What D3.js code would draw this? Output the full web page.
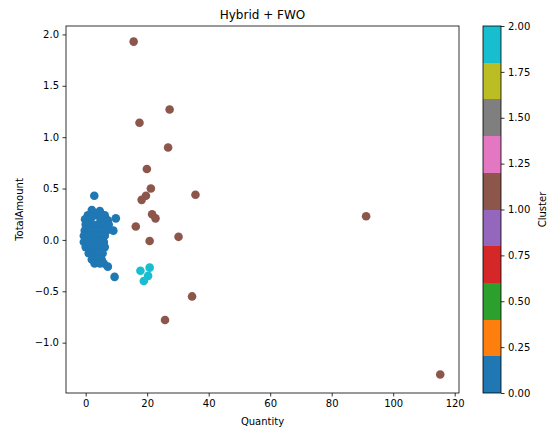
<!DOCTYPE html>
<html>
<head>
<meta charset="utf-8">
<script src="https://cdn.jsdelivr.net/npm/d3@7"></script>
<style>
  body { margin: 0; background: #fff; }
  text { font-family: "DejaVu Sans", sans-serif; fill: #000; }
</style>
</head>
<body>
<div id="chart"></div>
<script>
var width = 552, height = 430;

// cluster 0
var quantity0 = [2.8, 2.0, 4.6, 6.2, 3.3, 0.7, 9.8, -0.2, 1.6, 4.9, 7.2, 0.0, 2.0, 3.9, 5.9, 7.5,
  9.0, -0.3, 1.3, 3.3, 5.2, 6.8, -0.6, 1.0, 2.9, 4.6, 6.2, -0.6, 1.0, 2.6, 4.2, 5.9,
  0.0, 1.6, 3.3, 4.9, 6.2, 1.0, 2.6, 4.2, 5.5, 2.0, 3.6, 5.2, 2.9, 4.6, 5.9, 7.2, 9.4];
var amount0 = [0.43, 0.29, 0.28, 0.24, 0.24, 0.24, 0.21, 0.20, 0.20, 0.20, 0.19, 0.15, 0.15, 0.15, 0.14, 0.15,
  0.09, 0.09, 0.09, 0.09, 0.08, 0.09, 0.04, 0.04, 0.04, 0.04, 0.04, -0.02, -0.02, -0.02, -0.02, -0.02,
  -0.07, -0.07, -0.07, -0.07, -0.07, -0.13, -0.13, -0.13, -0.13, -0.19, -0.19, -0.19, -0.23, -0.23, -0.23, -0.26, -0.36];

// cluster 1
var quantity1 = [15.6, 27.3, 17.5, 26.8, 19.9, 21.2, 35.7, 19.6, 18.2, 21.6, 22.7, 16.3, 20.8, 30.2, 34.6, 25.8, 91.2, 115.3];
var amount1 = [1.93, 1.27, 1.14, 0.90, 0.69, 0.50, 0.44, 0.43, 0.39, 0.25, 0.21, 0.13, -0.01, 0.03, -0.55, -0.78, 0.23, -1.31];

// cluster 2
var quantity2 = [17.8, 20.8, 20.3, 18.9];
var amount2 = [-0.30, -0.27, -0.35, -0.40];

var xTicks = [0, 20, 40, 60, 80, 100, 120];
var yTicks = [-1.0, -0.5, 0.0, 0.5, 1.0, 1.5, 2.0];
var cbTicks = [0, 0.25, 0.5, 0.75, 1.0, 1.25, 1.5, 1.75, 2.0];

var points = [];
[[quantity0, amount0, 0], [quantity1, amount1, 1], [quantity2, amount2, 2]].forEach(function(s) {
  s[0].forEach(function(q, i) { points.push({ q: q, a: s[1][i], c: s[2] }); });
});

var m = { left: 66, right: 459, top: 26, bottom: 393 };

var svg = d3.select("#chart").append("svg").attr("width", width).attr("height", height);

var x = d3.scaleLinear().domain([-6.4, 121.4]).range([m.left, m.right]);
var y = d3.scaleLinear().domain([-1.49, 2.082]).range([m.bottom, m.top]);

// tab10, 10 bins over 0..2
var cmap = d3.schemeCategory10;
function color(c) { return cmap[Math.min(9, Math.floor(c / 2 * 10))]; }

svg.append("g")
    .attr("transform", "translate(0," + m.bottom + ")")
    .call(d3.axisBottom(x).tickValues(xTicks).tickSize(3.5).tickPadding(3.5).tickFormat(d3.format("d")))
    .call(styleAxis);

svg.append("g")
    .attr("transform", "translate(" + m.left + ",0)")
    .call(d3.axisLeft(y).tickValues(yTicks).tickSize(3.5).tickPadding(3.5).tickFormat(d3.format(".1f")))
    .call(styleAxis);

function styleAxis(g) {
  g.select(".domain").remove();
  g.selectAll("line").attr("stroke", "#000").attr("stroke-width", 0.8);
  g.selectAll("text").style("font-family", "DejaVu Sans, sans-serif").style("font-size", "10px").attr("fill", "#000");
}

svg.append("rect")
    .attr("x", m.left).attr("y", m.top)
    .attr("width", m.right - m.left).attr("height", m.bottom - m.top)
    .attr("fill", "none").attr("stroke", "#000").attr("stroke-width", 0.8);

svg.append("g").selectAll("circle")
    .data(points)
  .enter().append("circle")
    .attr("cx", function(d) { return x(d.q); })
    .attr("cy", function(d) { return y(d.a); })
    .attr("r", 4.3)
    .attr("fill", function(d) { return color(d.c); });

svg.append("text")
    .attr("x", (m.left + m.right) / 2).attr("y", 19)
    .attr("text-anchor", "middle").style("font-size", "12px")
    .text("Hybrid + FWO");

svg.append("text")
    .attr("x", (m.left + m.right) / 2).attr("y", 425)
    .attr("text-anchor", "middle").style("font-size", "10px")
    .text("Quantity");

svg.append("text")
    .attr("transform", "translate(23," + ((m.top + m.bottom) / 2) + ") rotate(-90)")
    .attr("text-anchor", "middle").style("font-size", "10px")
    .text("TotalAmount");

// colorbar
var cb = { left: 483, width: 18 };
var cy = d3.scaleLinear().domain([0, 2]).range([m.bottom, m.top]);
var bins = d3.range(10);

svg.append("g").selectAll("rect")
    .data(bins)
  .enter().append("rect")
    .attr("x", cb.left)
    .attr("y", function(i) { return cy((i + 1) * 0.2); })
    .attr("width", cb.width)
    .attr("height", function(i) { return cy(i * 0.2) - cy((i + 1) * 0.2); })
    .attr("fill", function(i) { return cmap[i]; })
    .attr("shape-rendering", "crispEdges");

svg.append("rect")
    .attr("x", cb.left).attr("y", m.top)
    .attr("width", cb.width).attr("height", m.bottom - m.top)
    .attr("fill", "none").attr("stroke", "#000").attr("stroke-width", 0.8);

svg.append("g")
    .attr("transform", "translate(" + (cb.left + cb.width) + ",0)")
    .call(d3.axisRight(cy).tickValues(cbTicks).tickSize(3.5).tickPadding(3.5).tickFormat(d3.format(".2f")))
    .call(styleAxis);

svg.append("text")
    .attr("transform", "translate(546," + ((m.top + m.bottom) / 2) + ") rotate(-90)")
    .attr("text-anchor", "middle").style("font-size", "10px")
    .text("Cluster");
</script>
</body>
</html>
